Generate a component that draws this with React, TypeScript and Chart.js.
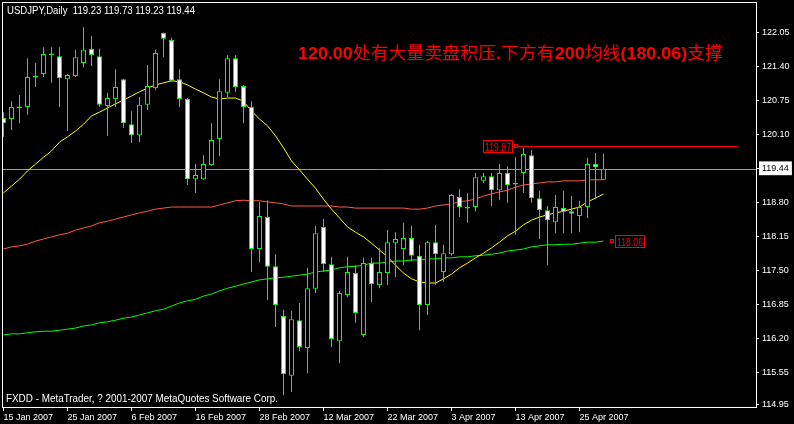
import React, { useEffect, useRef } from 'react';
import { Chart, registerables } from 'chart.js';

Chart.register(...registerables);

const symbolHeader = 'USDJPY,Daily  119.23 119.73 119.23 119.44';
const copyrightText = 'FXDD - MetaTrader, ? 2001-2007 MetaQuotes Software Corp.';
const annotationText = '120.00处有大量卖盘积压.下方有200均线(180.06)支撑';

const dateTickBars = [0, 8, 16, 24, 32, 40, 48, 56, 64, 72];
const dateTickLabels = ['15 Jan 2007', '25 Jan 2007', '6 Feb 2007', '16 Feb 2007', '28 Feb 2007', '12 Mar 2007', '22 Mar 2007', '3 Apr 2007', '13 Apr 2007', '25 Apr 2007'];
const priceTicks = [122.05, 121.40, 120.75, 120.10, 119.44, 118.80, 118.15, 117.50, 116.85, 116.20, 115.55, 114.95];

const currentPrice = 119.44;
const resistancePrice = 119.87;
const resistanceFromBar = 64;
const resistanceToBar = 91.75;
const slowMaLabelBar = 76;

const opens = [120.41, 120.39, 120.63, 120.62, 121.21, 121.25, 121.64, 121.59, 121.15, 121.21,
  121.46, 121.73, 121.59, 120.64, 120.77, 121.15, 120.29, 120.08, 120.66, 120.98,
  122.03, 121.90, 121.15, 120.77, 119.24, 119.24, 119.51, 120.01, 120.89, 121.55,
  121.02, 120.62, 117.91, 118.52, 117.58, 116.63, 115.49, 116.55, 116.02, 117.15,
  118.33, 117.62, 116.15, 117.03, 117.45, 116.27, 117.64, 117.22, 117.45, 118.02,
  117.91, 118.12, 117.78, 116.84, 118.04, 117.47, 117.81, 118.90, 118.71, 118.71,
  119.21, 119.30, 119.03, 119.36, 119.17, 119.36, 119.70, 118.88, 118.65, 118.42,
  118.69, 118.63, 118.54, 118.71, 119.53, 119.23];
const highs = [120.52, 120.73, 120.85, 121.55, 121.46, 121.76, 121.76, 121.76, 121.25, 121.71,
  122.14, 121.97, 121.73, 120.89, 121.34, 121.16, 120.54, 120.81, 121.42, 121.71,
  122.04, 121.94, 121.34, 120.79, 119.53, 119.70, 120.31, 121.15, 121.61, 121.61,
  121.04, 120.73, 118.81, 118.84, 117.81, 116.75, 116.73, 116.88, 117.55, 118.35,
  118.48, 117.76, 117.11, 117.76, 117.60, 117.74, 117.74, 117.93, 118.27, 118.23,
  118.41, 118.35, 117.99, 118.06, 118.37, 117.99, 118.96, 119.05, 118.98, 119.36,
  119.36, 119.36, 119.53, 119.49, 119.66, 119.84, 119.80, 119.02, 118.73, 118.94,
  119.02, 118.92, 118.83, 119.65, 119.74, 119.73];
const lows = [120.05, 120.18, 120.31, 120.47, 121.00, 121.19, 121.08, 120.62, 120.16, 121.19,
  121.38, 121.40, 120.62, 120.07, 120.62, 120.22, 119.93, 119.95, 120.56, 120.94,
  121.57, 121.10, 120.62, 119.13, 118.98, 119.23, 119.50, 119.68, 120.81, 120.91,
  120.31, 117.47, 117.66, 116.94, 116.42, 115.12, 115.18, 115.96, 115.54, 117.07,
  117.47, 116.04, 115.73, 116.99, 116.50, 116.23, 116.90, 117.16, 117.22, 117.37,
  117.60, 117.68, 116.36, 116.65, 117.22, 117.28, 117.78, 118.52, 118.41, 118.63,
  119.17, 118.73, 118.84, 118.79, 118.18, 118.98, 118.79, 118.10, 117.60, 118.21,
  118.21, 118.21, 118.23, 118.50, 118.86, 119.23];
const closes = [120.31, 120.62, 120.60, 121.19, 121.18, 121.63, 121.61, 121.17, 121.23, 121.57,
  121.71, 121.61, 120.66, 120.79, 121.00, 120.31, 120.08, 120.66, 121.02, 121.65,
  121.92, 121.12, 120.77, 119.24, 119.32, 119.53, 119.99, 120.92, 121.55, 121.00,
  120.62, 117.91, 118.54, 117.57, 116.84, 115.52, 116.57, 116.04, 117.16, 118.21,
  117.62, 116.19, 117.07, 117.47, 116.69, 117.64, 117.24, 117.47, 118.04, 118.10,
  118.12, 117.78, 116.84, 118.04, 117.81, 117.83, 118.94, 118.71, 118.68, 119.28,
  119.30, 119.03, 119.36, 119.13, 119.14, 119.72, 118.88, 118.65, 118.46, 118.71,
  118.62, 118.58, 118.71, 119.53, 119.47, 119.44];

const maFast = [118.98, 119.11, 119.24, 119.40, 119.53, 119.66, 119.78, 119.95, 120.05, 120.16,
  120.29, 120.45, 120.52, 120.60, 120.68, 120.75, 120.83, 120.91, 120.98, 121.04,
  121.08, 121.12, 121.10, 121.04, 120.96, 120.89, 120.81, 120.77, 120.79, 120.79,
  120.73, 120.54, 120.39, 120.26, 120.07, 119.84, 119.59, 119.42, 119.24, 119.07,
  118.86, 118.67, 118.50, 118.33, 118.23, 118.14, 118.02, 117.89, 117.76, 117.60,
  117.45, 117.34, 117.28, 117.26, 117.26, 117.34, 117.43, 117.55, 117.64, 117.74,
  117.83, 117.93, 118.04, 118.16, 118.25, 118.37, 118.46, 118.52, 118.56, 118.60,
  118.63, 118.67, 118.71, 118.81, 118.88, 118.96];
const maMid = [117.91, 117.95, 117.97, 118.00, 118.06, 118.10, 118.14, 118.18, 118.21, 118.27,
  118.31, 118.35, 118.41, 118.44, 118.48, 118.52, 118.56, 118.60, 118.63, 118.67,
  118.69, 118.71, 118.71, 118.71, 118.71, 118.71, 118.71, 118.75, 118.79, 118.83,
  118.84, 118.83, 118.83, 118.81, 118.79, 118.77, 118.73, 118.73, 118.73, 118.73,
  118.73, 118.73, 118.71, 118.71, 118.69, 118.69, 118.69, 118.69, 118.69, 118.69,
  118.69, 118.67, 118.67, 118.69, 118.73, 118.75, 118.77, 118.81, 118.83, 118.86,
  118.92, 118.96, 119.00, 119.03, 119.09, 119.13, 119.15, 119.17, 119.19, 119.19,
  119.21, 119.21, 119.21, 119.23, 119.23, 119.23];
const maSlow = [116.27, 116.29, 116.29, 116.31, 116.33, 116.34, 116.34, 116.36, 116.38, 116.40,
  116.44, 116.46, 116.50, 116.52, 116.55, 116.59, 116.61, 116.65, 116.69, 116.73,
  116.76, 116.82, 116.88, 116.92, 116.95, 117.01, 117.05, 117.11, 117.16, 117.20,
  117.24, 117.28, 117.32, 117.34, 117.36, 117.37, 117.39, 117.41, 117.43, 117.47,
  117.49, 117.51, 117.55, 117.57, 117.58, 117.60, 117.64, 117.64, 117.66, 117.68,
  117.68, 117.70, 117.70, 117.72, 117.72, 117.74, 117.74, 117.76, 117.76, 117.78,
  117.79, 117.81, 117.83, 117.87, 117.89, 117.91, 117.95, 117.97, 117.99, 117.99,
  118.00, 118.00, 118.02, 118.04, 118.04, 118.06];

const X_MIN = -0.0625;
const X_MAX = 94.0625;
const Y_MIN = 114.894;
const Y_MAX = 122.604;

const UI_FONT = "'Liberation Sans', Arial, sans-serif";

function fitText(ctx: CanvasRenderingContext2D, text: string, x: number, baseline: number, width: number, font: string, color: string) {
  ctx.save();
  ctx.font = font;
  ctx.fillStyle = color;
  ctx.textAlign = 'left';
  ctx.textBaseline = 'alphabetic';
  const m = ctx.measureText(text).width;
  ctx.translate(x, baseline);
  ctx.scale(width / m, 1);
  ctx.fillText(text, 0, 0);
  ctx.restore();
}

function drawMixed(ctx: CanvasRenderingContext2D, text: string, x: number, baseline: number, width: number, color: string) {
  const latin = `bold 17px ${UI_FONT}`;
  const cjk = "17px 'Noto Sans CJK SC', sans-serif";
  const runs: { s: string; f: string }[] = [];
  for (const ch of text) {
    const f = ch.charCodeAt(0) < 128 ? latin : cjk;
    if (runs.length && runs[runs.length - 1].f === f) runs[runs.length - 1].s += ch;
    else runs.push({ s: ch, f });
  }
  ctx.save();
  let total = 0;
  for (const r of runs) { ctx.font = r.f; total += ctx.measureText(r.s).width; }
  ctx.translate(x, baseline);
  ctx.scale(width / total, 1);
  ctx.fillStyle = color;
  ctx.textBaseline = 'alphabetic';
  ctx.textAlign = 'left';
  let cx = 0;
  for (const r of runs) { ctx.font = r.f; ctx.fillText(r.s, cx, 0); cx += ctx.measureText(r.s).width; }
  ctx.restore();
}

function priceBox(ctx: CanvasRenderingContext2D, text: string, left: number, cy: number, markerX: number) {
  const w = 30, h = 13;
  const top = Math.round(cy - h / 2);
  ctx.save();
  ctx.fillStyle = '#000';
  ctx.fillRect(left, top, w, h);
  ctx.strokeStyle = '#ff0000';
  ctx.lineWidth = 1;
  ctx.strokeRect(left + 0.5, top + 0.5, w - 1, h - 1);
  ctx.strokeRect(Math.round(markerX) - 1.5, Math.round(cy) - 1.5, 3, 3);
  ctx.restore();
  fitText(ctx, text, left + 2, top + 10.5, w - 4, `10px ${UI_FONT}`, '#ff0000');
}

const mtPlugin = {
  id: 'mt4',
  beforeDraw(chart: any) {
    const { ctx, width, height } = chart;
    ctx.save();
    ctx.fillStyle = '#000';
    ctx.fillRect(0, 0, width, height);
    ctx.restore();
  },
  beforeDatasetsDraw(chart: any) {
    const { ctx, chartArea: a, scales } = chart;
    const py = Math.round(scales.y.getPixelForValue(currentPrice)) + 0.5;
    ctx.save();
    ctx.strokeStyle = '#9c9c9c';
    ctx.lineWidth = 1;
    ctx.beginPath();
    ctx.moveTo(a.left, py);
    ctx.lineTo(a.right, py);
    ctx.stroke();
    ctx.restore();
  },
  afterDatasetsDraw(chart: any) {
    const { ctx, scales } = chart;
    const x = scales.x, y = scales.y;
    const ry = y.getPixelForValue(resistancePrice);
    const rx0 = x.getPixelForValue(resistanceFromBar);
    const rx1 = x.getPixelForValue(resistanceToBar);
    ctx.save();
    ctx.strokeStyle = '#ff0000';
    ctx.lineWidth = 1;
    ctx.beginPath();
    ctx.moveTo(rx0 + 2, Math.round(ry) + 0.5);
    ctx.lineTo(rx1, Math.round(ry) + 0.5);
    ctx.stroke();
    ctx.restore();
    priceBox(ctx, resistancePrice.toFixed(2), Math.round(rx0) - 33, ry, rx0);
    const lastSlow = maSlow[maSlow.length - 1];
    const sy = y.getPixelForValue(lastSlow);
    const sx = x.getPixelForValue(slowMaLabelBar);
    priceBox(ctx, lastSlow.toFixed(2), Math.round(sx) + 3, sy, sx);
  },
  afterDraw(chart: any) {
    const { ctx, chartArea: a } = chart;
    ctx.save();
    ctx.strokeStyle = '#ffffff';
    ctx.lineWidth = 1;
    ctx.strokeRect(a.left - 0.5, a.top - 0.5, a.right - a.left + 1, a.bottom - a.top + 1);
    ctx.restore();
    fitText(ctx, symbolHeader, 7, 13.5, 188, `10px ${UI_FONT}`, '#ffffff');
    fitText(ctx, copyrightText, 6, 402, 272, `10px ${UI_FONT}`, '#ffffff');
    drawMixed(ctx, annotationText, 298, 59, 425, '#ff0000');
  },
};

export default function App() {
  const ref = useRef<HTMLCanvasElement>(null);
  useEffect(() => {
    document.body.style.margin = '0';
    document.body.style.background = '#000';
    const canvas = ref.current!;
    const chart = new Chart(canvas, {
      type: 'bar',
      data: {
        datasets: [
          {
            type: 'bar', label: 'body', data: opens.map((o, i) => ({ x: i, y: [o, closes[i]] })),
            backgroundColor: opens.map((o, i) => (closes[i] >= o ? '#000000' : '#ffffff')),
            borderColor: '#00ff00', borderWidth: 1, borderSkipped: false, grouped: false,
            maxBarThickness: 5, inflateAmount: 0, order: 0,
          },
          {
            type: 'bar', label: 'wick', data: lows.map((l, i) => ({ x: i, y: [l, highs[i]] })),
            backgroundColor: '#00ff00', borderWidth: 0, grouped: false,
            maxBarThickness: 1, inflateAmount: 0, order: 1,
          },
          {
            type: 'line', label: 'MA fast', data: maFast.map((v, i) => ({ x: i, y: v })),
            borderColor: '#ffff00', borderWidth: 1, pointRadius: 0, tension: 0, order: 2,
          },
          {
            type: 'line', label: 'MA mid', data: maMid.map((v, i) => ({ x: i, y: v })),
            borderColor: '#ff5a45', borderWidth: 1, pointRadius: 0, tension: 0, order: 3,
          },
          {
            type: 'line', label: 'MA slow', data: maSlow.map((v, i) => ({ x: i, y: v })),
            borderColor: '#00ff00', borderWidth: 1, pointRadius: 0, tension: 0, order: 4,
          },
        ] as any,
      },
      options: {
        responsive: false,
        animation: false,
        devicePixelRatio: 1,
        events: [],
        layout: { padding: { left: 3, top: 3, right: 0, bottom: 0 } },
        plugins: { legend: { display: false }, tooltip: { enabled: false } },
        scales: {
          x: {
            type: 'linear', min: X_MIN, max: X_MAX, offset: false,
            grid: { display: true, drawOnChartArea: false, drawTicks: true, tickLength: 4, tickColor: '#ffffff', offset: false },
            border: { display: false },
            ticks: {
              color: '#ffffff', font: { family: UI_FONT, size: 9 }, align: 'start', maxRotation: 0, minRotation: 0,
              autoSkip: false, padding: 1,
              callback: (v: any) => { const k = dateTickBars.indexOf(Number(v)); return k >= 0 ? dateTickLabels[k] : ''; },
            },
            afterBuildTicks: (s: any) => { s.ticks = dateTickBars.map((v) => ({ value: v })); },
            afterFit: (s: any) => { s.height = 17; s.paddingLeft = 0; s.paddingRight = 0; s.paddingTop = 0; s.paddingBottom = 0; },
          },
          y: {
            type: 'linear', position: 'right', min: Y_MIN, max: Y_MAX,
            grid: { display: true, drawOnChartArea: false, drawTicks: true, tickLength: 3, tickColor: '#ffffff' },
            border: { display: false },
            ticks: {
              color: (c: any) => (c.tick && c.tick.value === currentPrice ? '#000000' : '#ffffff'),
              showLabelBackdrop: (c: any) => !!(c.tick && c.tick.value === currentPrice),
              backdropColor: '#ffffff',
              backdropPadding: { left: 3, right: 3, top: 2, bottom: 1 },
              padding: 3, font: { family: UI_FONT, size: 9 },
              callback: (v: any) => Number(v).toFixed(2),
            },
            afterBuildTicks: (s: any) => { s.ticks = priceTicks.map((v) => ({ value: v })); },
            afterFit: (s: any) => { s.width = 38; s.paddingTop = 0; s.paddingBottom = 0; s.paddingLeft = 0; s.paddingRight = 0; },
          },
        },
      } as any,
      plugins: [mtPlugin],
    });
    return () => chart.destroy();
  }, []);
  return (
    <div style={{ width: 794, height: 424, background: '#000' }}>
      <canvas ref={ref} width={794} height={424} style={{ display: 'block' }} />
    </div>
  );
}
